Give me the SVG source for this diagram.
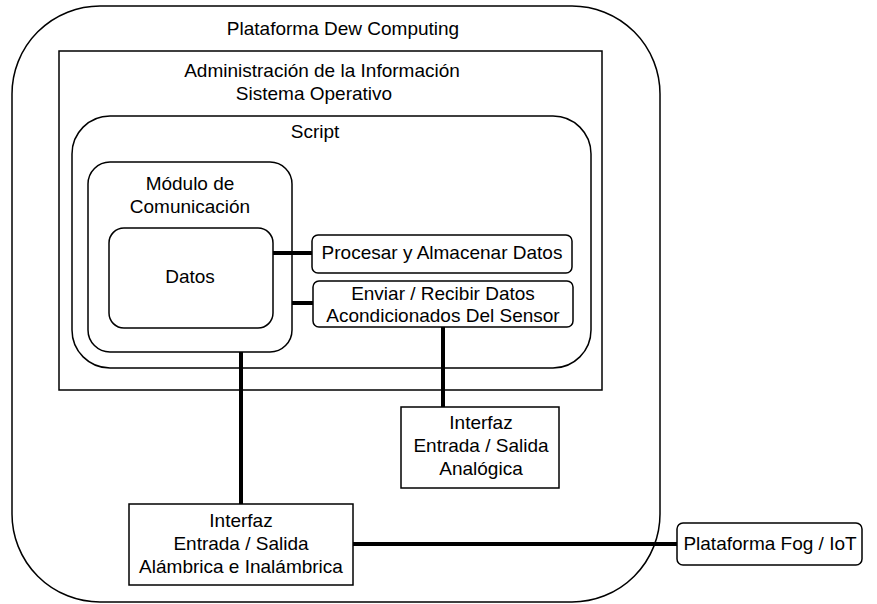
<svg xmlns="http://www.w3.org/2000/svg" width="877" height="604" viewBox="0 0 877 604">
  <style>
    .box { fill: none; stroke: #000; stroke-width: 1.5; }
    .wire { fill: none; stroke: #000; stroke-width: 4; }
    text { font-family: "Liberation Sans", Arial, sans-serif; font-size: 19px; fill: #000; text-anchor: middle; }
  </style>
  <rect width="877" height="604" fill="#fff"/>

  <!-- containers -->
  <g id="dew-platform">
    <rect class="box" x="12" y="6" width="648" height="596" rx="88" ry="88"/>
    <text x="343" y="35">Plataforma Dew Computing</text>
  </g>
  <g id="info-admin">
    <rect class="box" x="59" y="51" width="543" height="339"/>
    <text x="322" y="77">Administración de la Información</text>
    <text x="314" y="100">Sistema Operativo</text>
  </g>
  <g id="script">
    <rect class="box" x="72" y="116" width="519" height="252" rx="38" ry="38"/>
    <text x="315" y="138">Script</text>
  </g>
  <g id="comm-module">
    <rect class="box" x="88" y="162" width="204" height="190" rx="22" ry="22"/>
    <text x="190" y="190">Módulo de</text>
    <text x="190" y="213">Comunicación</text>
  </g>
  <g id="data">
    <rect class="box" x="109" y="228" width="164" height="100" rx="15" ry="15"/>
    <text x="190" y="283">Datos</text>
  </g>
  <g id="process-store">
    <rect class="box" x="312" y="235" width="260" height="38" rx="6" ry="6"/>
    <text x="442" y="259">Procesar y Almacenar Datos</text>
  </g>
  <g id="send-receive">
    <rect class="box" x="313" y="281" width="260" height="46" rx="6" ry="6"/>
    <text x="443" y="300">Enviar / Recibir Datos</text>
    <text x="443" y="322">Acondicionados Del Sensor</text>
  </g>
  <g id="analog-io">
    <rect class="box" x="401" y="407" width="158" height="81"/>
    <text x="481" y="429">Interfaz</text>
    <text x="481" y="452">Entrada / Salida</text>
    <text x="481" y="475">Analógica</text>
  </g>
  <g id="wired-wireless-io">
    <rect class="box" x="129" y="504" width="224" height="81"/>
    <text x="241" y="527">Interfaz</text>
    <text x="241" y="550">Entrada / Salida</text>
    <text x="241" y="573">Alámbrica e Inalámbrica</text>
  </g>
  <g id="fog-iot">
    <rect class="box" x="677" y="523" width="185" height="42" rx="6" ry="6"/>
    <text x="770" y="550">Plataforma Fog / IoT</text>
  </g>

  <!-- connectors -->
  <g id="connectors">
    <line class="wire" x1="273" y1="253" x2="312" y2="253"/>
    <line class="wire" x1="292" y1="303" x2="313" y2="303"/>
    <line class="wire" x1="443" y1="327" x2="443" y2="407"/>
    <line class="wire" x1="241" y1="352" x2="241" y2="504"/>
    <line class="wire" x1="353" y1="544" x2="677" y2="544"/>
  </g>
</svg>
